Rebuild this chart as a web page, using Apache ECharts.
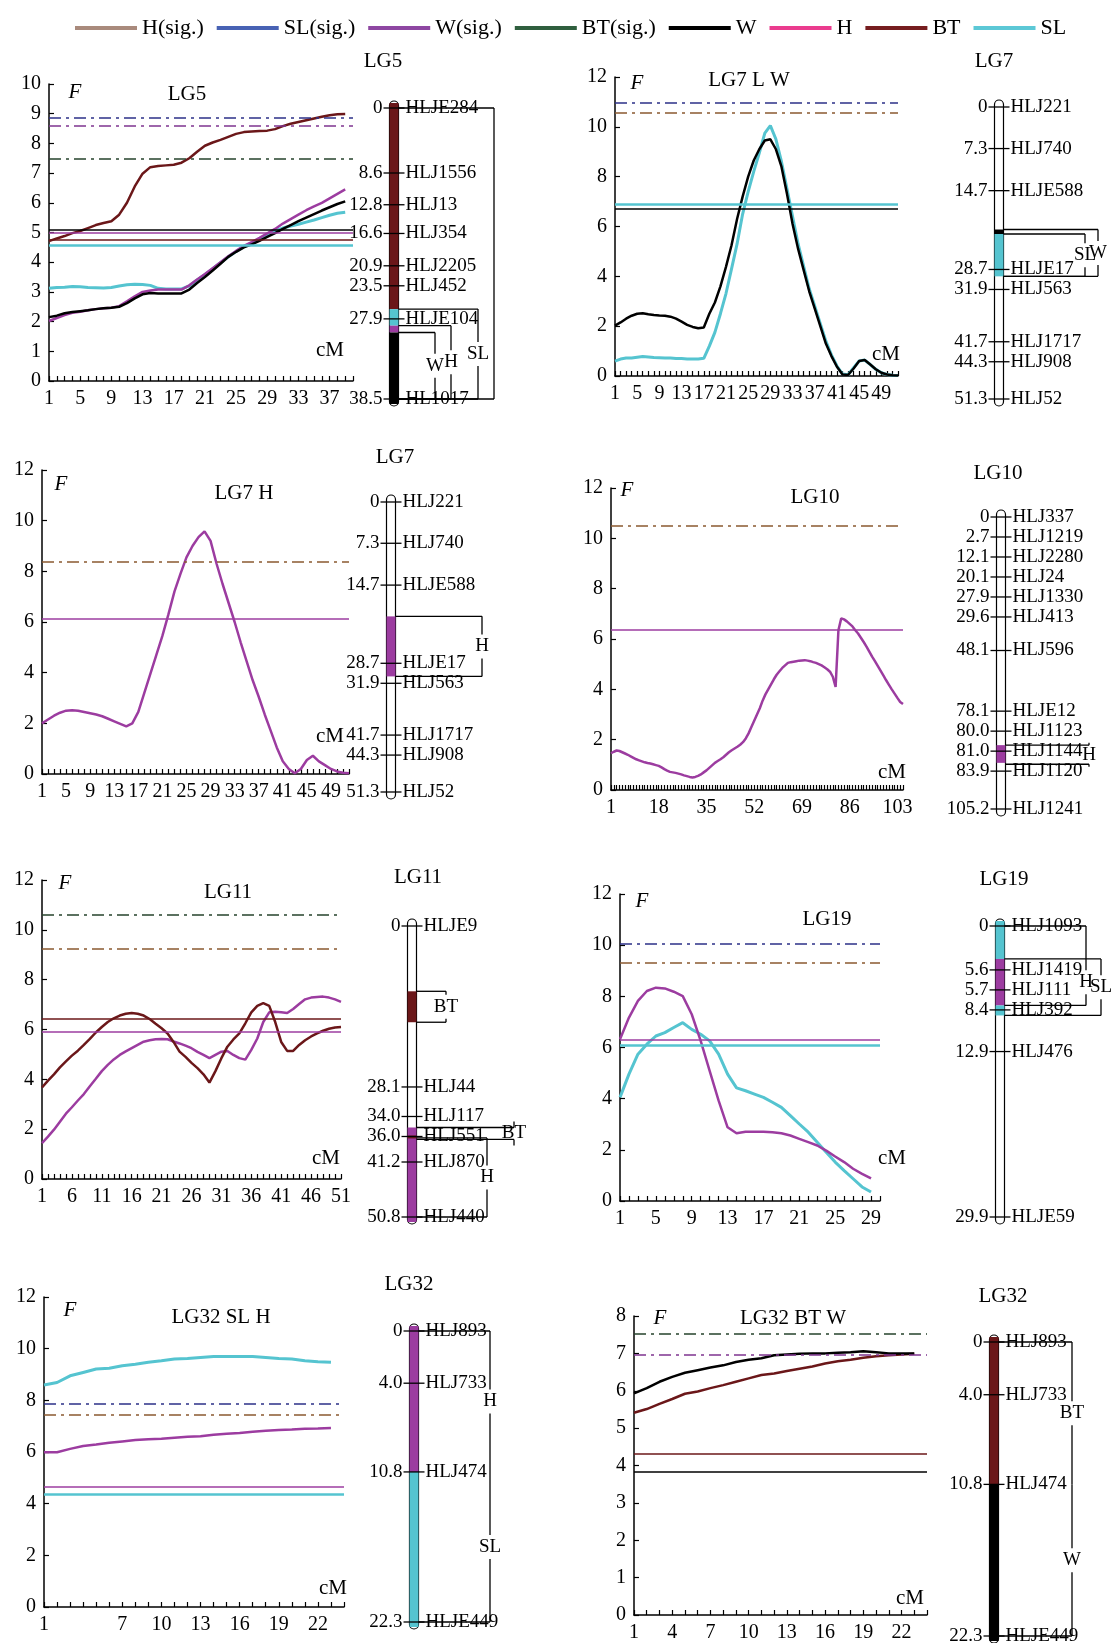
<!DOCTYPE html>
<html>
<head>
<meta charset="utf-8">
<script src="https://cdn.jsdelivr.net/npm/echarts@6/dist/echarts.min.js"></script>
<style>
html, body { margin: 0; padding: 0; background: #fff; }
#main { width: 1115px; height: 1643px; }
</style>
</head>
<body>
<div id="main"></div>
<script>
// ---------- data: F curves, one value per cM ----------
const lg5BT = [4.71,4.8,4.88,4.98,5.05,5.15,5.25,5.32,5.38,5.6,6.0,6.55,6.98,7.2,7.24,7.26,7.28,7.35,7.5,7.72,7.92,8.03,8.12,8.22,8.32,8.38,8.4,8.42,8.43,8.48,8.58,8.66,8.72,8.78,8.84,8.9,8.95,8.98,8.99];
const lg5W = [2.15,2.2,2.28,2.32,2.35,2.38,2.42,2.45,2.47,2.5,2.62,2.78,2.92,2.96,2.95,2.95,2.95,2.95,3.08,3.3,3.5,3.72,3.95,4.18,4.35,4.5,4.6,4.72,4.85,4.98,5.12,5.25,5.38,5.5,5.62,5.74,5.85,5.96,6.05];
const lg5H = [2.02,2.12,2.22,2.3,2.33,2.38,2.42,2.45,2.47,2.52,2.68,2.85,3.0,3.05,3.08,3.08,3.08,3.08,3.22,3.42,3.6,3.8,4.0,4.2,4.38,4.55,4.68,4.82,4.97,5.12,5.3,5.45,5.6,5.75,5.88,6.0,6.15,6.3,6.45];
const lg5SL = [3.12,3.15,3.16,3.18,3.17,3.15,3.14,3.13,3.15,3.2,3.24,3.26,3.25,3.22,3.12,3.1,3.1,3.1,3.2,3.4,3.58,3.78,3.98,4.18,4.36,4.52,4.65,4.78,4.92,5.05,5.15,5.22,5.28,5.35,5.42,5.5,5.58,5.65,5.68];
const lg5Lines = [['SL(sig.)', 8.88], ['W(sig.)', 8.61], ['BT(sig.)', 7.5], ['W', 5.1], ['H', 5.0], ['BT', 4.76], ['SL', 4.57]];
const lg5Ticks = [1,5,9,13,17,21,25,29,33,37];

const lg7W = [2.02,2.15,2.3,2.42,2.5,2.52,2.48,2.45,2.43,2.42,2.38,2.3,2.18,2.05,1.97,1.92,1.95,2.5,2.95,3.6,4.38,5.25,6.3,7.2,8.0,8.65,9.1,9.45,9.5,9.1,8.4,7.3,6.1,5.1,4.25,3.4,2.7,2.0,1.3,0.8,0.37,0.06,0.04,0.3,0.6,0.64,0.46,0.27,0.13,0.06,0.03,0.02];
const lg7SL = [0.6,0.68,0.72,0.72,0.75,0.78,0.76,0.74,0.73,0.72,0.72,0.7,0.7,0.68,0.68,0.68,0.71,1.2,1.75,2.5,3.31,4.3,5.3,6.5,7.4,8.2,8.95,9.75,10.05,9.5,8.6,7.5,6.4,5.3,4.4,3.5,2.8,2.1,1.4,0.85,0.4,0.08,0.05,0.33,0.6,0.64,0.46,0.27,0.13,0.06,0.03,0.02];
const lg7LWLines = [['SL(sig.)', 10.97], ['H(sig.)', 10.58], ['SL', 6.88], ['W', 6.7]];
const lg7Ticks = [1,5,9,13,17,21,25,29,33,37,41,45,49];

const lg7H = [2.0,2.15,2.3,2.42,2.5,2.52,2.5,2.45,2.4,2.35,2.28,2.18,2.08,1.98,1.88,2.0,2.45,3.2,3.95,4.7,5.45,6.3,7.2,7.9,8.55,9.0,9.35,9.58,9.2,8.3,7.5,6.75,6.0,5.2,4.45,3.7,3.05,2.35,1.7,1.05,0.5,0.2,0.03,0.2,0.55,0.72,0.5,0.35,0.2,0.1,0.05,0.03];
const lg7HLines = [['H(sig.)', 8.36], ['H', 6.14]];

const lg10H = [1.46,1.52,1.57,1.55,1.5,1.45,1.4,1.34,1.28,1.22,
  1.18,1.14,1.1,1.07,1.05,1.02,0.99,0.96,0.9,0.83,
  0.77,0.72,0.7,0.68,0.65,0.62,0.58,0.55,0.52,0.5,
  0.52,0.56,0.62,0.7,0.78,0.88,0.98,1.08,1.15,1.22,
  1.3,1.4,1.5,1.58,1.65,1.72,1.8,1.9,2.05,2.25,
  2.5,2.75,3.0,3.25,3.55,3.8,4.0,4.2,4.4,4.58,
  4.72,4.85,4.95,5.05,5.08,5.1,5.12,5.14,5.15,5.16,
  5.14,5.12,5.08,5.05,5.0,4.95,4.88,4.8,4.7,4.5,
  4.1,6.35,6.82,6.78,6.7,6.6,6.5,6.35,6.22,6.05,
  5.88,5.7,5.5,5.3,5.12,4.93,4.74,4.55,4.36,4.18,
  4.0,3.83,3.66,3.5,3.42];
const lg10Lines = [['H(sig.)', 10.51], ['H', 6.35]];
const lg10Ticks = [1,18,35,52,69,86,103];

const lg11BT = [3.67,3.95,4.2,4.48,4.72,4.95,5.15,5.38,5.62,5.88,6.1,6.3,6.45,6.56,6.63,6.66,6.63,6.56,6.42,6.23,6.05,5.84,5.5,5.11,4.9,4.66,4.45,4.2,3.87,4.33,4.85,5.31,5.6,5.84,6.25,6.69,6.95,7.06,6.95,6.3,5.5,5.14,5.14,5.38,5.57,5.72,5.84,5.95,6.03,6.08,6.1];
const lg11H = [1.44,1.7,1.98,2.3,2.62,2.88,3.15,3.41,3.72,4.02,4.33,4.58,4.8,4.98,5.12,5.25,5.38,5.51,5.57,5.61,5.62,5.61,5.52,5.44,5.35,5.25,5.1,4.98,4.85,4.98,5.11,5.14,4.98,4.85,4.79,5.18,5.64,6.3,6.69,6.71,6.69,6.66,6.82,7.02,7.21,7.28,7.3,7.32,7.28,7.21,7.11];
const lg11Lines = [['BT(sig.)', 10.6], ['H(sig.)', 9.25], ['BT', 6.43], ['H', 5.9]];
const lg11Ticks = [1,6,11,16,21,26,31,36,41,46,51];

const lg19H = [6.32,7.17,7.82,8.21,8.34,8.31,8.18,8.01,7.3,6.26,5.09,3.92,2.88,2.65,2.71,2.71,2.71,2.69,2.65,2.56,2.43,2.3,2.17,1.97,1.74,1.52,1.26,1.06,0.88];
const lg19SL = [4.05,4.96,5.74,6.13,6.45,6.58,6.78,6.97,6.71,6.52,6.26,5.74,4.96,4.42,4.31,4.18,4.05,3.86,3.66,3.34,3.01,2.69,2.3,1.91,1.52,1.19,0.87,0.55,0.35];
const lg19Lines = [['SL(sig.)', 10.06], ['H(sig.)', 9.31], ['H', 6.3], ['SL', 6.1]];
const lg19Ticks = [1,5,9,13,17,21,25,29];

const lg32SL = [8.59,8.69,8.95,9.08,9.21,9.24,9.34,9.4,9.47,9.53,9.6,9.62,9.66,9.7,9.7,9.7,9.7,9.66,9.62,9.6,9.53,9.49,9.47];
const lg32H = [5.99,5.99,6.12,6.23,6.29,6.36,6.41,6.46,6.49,6.51,6.55,6.59,6.61,6.67,6.71,6.74,6.78,6.82,6.85,6.87,6.9,6.91,6.93];
const lg32SLHLines = [['SL(sig.)', 7.85], ['H(sig.)', 7.46], ['H', 4.64], ['SL', 4.37]];
const lg32SLHTicks = [1,7,10,13,16,19,22];

const lg32W = [5.93,6.07,6.24,6.37,6.48,6.55,6.62,6.68,6.77,6.83,6.87,6.95,6.97,6.99,7.0,7.0,7.02,7.03,7.06,7.03,7.0,7.0,7.0];
const lg32BT = [5.41,5.51,5.65,5.78,5.92,5.98,6.07,6.15,6.24,6.33,6.42,6.46,6.53,6.59,6.65,6.73,6.79,6.83,6.88,6.92,6.95,6.97,6.99];
const lg32BTWLines = [['BT(sig.)', 7.52], ['W(sig.)', 6.95], ['BT', 4.31], ['W', 3.84]];
const lg32BTWTicks = [1,4,7,10,13,16,19,22];

// ---------- data: linkage maps ----------
const lg5Markers = [[0,'HLJE284'],[8.6,'HLJ1556'],[12.8,'HLJ13'],[16.6,'HLJ354'],[20.9,'HLJ2205'],[23.5,'HLJ452'],[27.9,'HLJE104'],[38.5,'HL1017']];
const lg5Qtl = [[0,26.6,'BT'],[26.6,28.8,'SL'],[28.8,29.7,'H'],[29.7,38.5,'W']];
const lg5Brackets = [[0,38.5,'',4],[26.6,38.5,'SL',3],[28.8,38.5,'H',2],[29.7,38.5,'W',1]];

const lg7Markers = [[0,'HLJ221'],[7.3,'HLJ740'],[14.7,'HLJE588'],[28.7,'HLJE17'],[31.9,'HLJ563'],[41.7,'HLJ1717'],[44.3,'HLJ908'],[51.3,'HLJ52']];
const lg7LWQtl = [[21.6,22.4,'W'],[22.4,29.8,'SL']];
const lg7LWBrackets = [[21.6,29.8,'W',2],[22.4,29.8,'SL',1]];
const lg7HQtl = [[20.3,30.8,'H']];
const lg7HBrackets = [[20.3,30.8,'H',1]];

const lg10Markers = [[0,'HLJ337'],[2.7,'HLJ1219'],[12.1,'HLJ2280'],[20.1,'HLJ24'],[27.9,'HLJ1330'],[29.6,'HLJ413'],[48.1,'HLJ596'],[78.1,'HLJE12'],[80.0,'HLJ1123'],[81.0,'HLJ1144'],[83.9,'HLJ1120'],[105.2,'HLJ1241']];
const lg10Qtl = [[80.7,82.7,'H']];
const lg10Brackets = [[80.7,82.9,'H',1]];

const lg11Markers = [[0,'HLJE9'],[28.1,'HLJ44'],[34.0,'HLJ117'],[36.0,'HLJ551'],[41.2,'HLJ870'],[50.8,'HLJ440']];
const lg11Qtl = [[11.4,16.8,'BT'],[35.1,50.8,'H'],[35.9,36.4,'BT']];
const lg11Brackets = [[11.4,16.8,'BT',1],[36.3,50.8,'H',2],[35.1,36.6,'BT',3]];

const lg19Markers = [[0,'HLJ1093'],[5.6,'HLJ1419'],[5.7,'HLJ111'],[8.4,'HLJ392'],[12.9,'HLJ476'],[29.9,'HLJE59']];
const lg19Qtl = [[0,4.2,'SL'],[4.2,7.8,'H'],[7.8,9.0,'SL']];
const lg19Brackets = [[0,4.2,'',1],[4.2,7.8,'H',1],[4.2,9.0,'SL',2]];

const lg32Markers = [[0,'HLJ893'],[4.0,'HLJ733'],[10.8,'HLJ474'],[22.3,'HLJE449']];
const lg32SLHQtl = [[0,10.8,'H'],[10.8,22.3,'SL']];
const lg32SLHBrackets = [[0,10.8,'H',1],[10.8,22.3,'SL',1]];
const lg32BTWQtl = [[0,10.8,'BT'],[10.8,22.3,'W']];
const lg32BTWBrackets = [[0,10.8,'BT',1],[10.8,22.3,'W',1]];

const legendNames = ['H(sig.)','SL(sig.)','W(sig.)','BT(sig.)','W','H','BT','SL'];

// ---------- styles ----------
const FONT = '"Liberation Serif", "Times New Roman", serif';
const TRAIT_COLOR = { W: '#000000', H: '#9c3ca0', BT: '#6b1719', SL: '#55c4d0' };
const SIG_COLOR = { 'H(sig.)': '#8a5a30', 'SL(sig.)': '#2d3088', 'W(sig.)': '#7f3590', 'BT(sig.)': '#26432d' };
const LEGEND_COLOR = { 'H(sig.)': '#a98a7c', 'SL(sig.)': '#4862b4', 'W(sig.)': '#8e47a2', 'BT(sig.)': '#2f5f3e', W: '#000000', H: '#ea3b8e', BT: '#761d1f', SL: '#5cc8d6' };

// ---------- panels ----------
const charts = [
  { title: 'LG5', ymax: 10, step: 1, ncat: 40, ticks: lg5Ticks, curves: [['SL', lg5SL], ['H', lg5H], ['W', lg5W], ['BT', lg5BT]], lines: lg5Lines,
    box: [49, 84, 304, 297], titlePos: [187, 94], fPos: [75, 92], cmPos: [330, 350] },
  { title: 'LG7 L W', ymax: 12, step: 2, ncat: 52, ticks: lg7Ticks, curves: [['SL', lg7SL], ['W', lg7W]], lines: lg7LWLines,
    box: [615, 77, 283, 299], titlePos: [749, 80], fPos: [637, 83], cmPos: [886, 354] },
  { title: 'LG7 H', ymax: 12, step: 2, ncat: 52, ticks: lg7Ticks, curves: [['H', lg7H]], lines: lg7HLines,
    box: [42, 470, 307, 304], titlePos: [244, 493], fPos: [61, 484], cmPos: [330, 736] },
  { title: 'LG10', ymax: 12, step: 2, ncat: 105, ticks: lg10Ticks, curves: [['H', lg10H]], lines: lg10Lines,
    box: [611, 488, 292, 302], titlePos: [815, 497], fPos: [627, 490], cmPos: [892, 772] },
  { title: 'LG11', ymax: 12, step: 2, ncat: 51, ticks: lg11Ticks, curves: [['H', lg11H], ['BT', lg11BT]], lines: lg11Lines,
    box: [42, 880, 299, 299], titlePos: [228, 892], fPos: [65, 883], cmPos: [326, 1158] },
  { title: 'LG19', ymax: 12, step: 2, ncat: 30, ticks: lg19Ticks, curves: [['SL', lg19SL], ['H', lg19H]], lines: lg19Lines,
    box: [620, 894, 260, 307], titlePos: [827, 919], fPos: [642, 901], cmPos: [892, 1158] },
  { title: 'LG32 SL H', ymax: 12, step: 2, ncat: 24, ticks: lg32SLHTicks, curves: [['SL', lg32SL], ['H', lg32H]], lines: lg32SLHLines,
    box: [44, 1297, 300, 310], titlePos: [221, 1317], fPos: [70, 1310], cmPos: [333, 1588] },
  { title: 'LG32 BT W', ymax: 8, step: 1, ncat: 24, ticks: lg32BTWTicks, curves: [['BT', lg32BT], ['W', lg32W]], lines: lg32BTWLines,
    box: [634, 1316, 293, 301], titlePos: [793, 1318], fPos: [660, 1318], cmPos: [910, 1598] }
];

const maps = [
  { title: 'LG5', markers: lg5Markers, qtl: lg5Qtl, brackets: lg5Brackets, bar: [394, 108, 399], titlePos: [383, 61], cols: [41, 57, 84, 100] },
  { title: 'LG7', markers: lg7Markers, qtl: lg7LWQtl, brackets: lg7LWBrackets, bar: [999, 107, 399], titlePos: [994, 61], cols: [86, 99] },
  { title: 'LG7', markers: lg7Markers, qtl: lg7HQtl, brackets: lg7HBrackets, bar: [391, 502, 792], titlePos: [395, 457], cols: [91] },
  { title: 'LG10', markers: lg10Markers, qtl: lg10Qtl, brackets: lg10Brackets, bar: [1001, 517, 809], titlePos: [998, 473], cols: [88] },
  { title: 'LG11', markers: lg11Markers, qtl: lg11Qtl, brackets: lg11Brackets, bar: [412, 926, 1217], titlePos: [418, 877], cols: [34, 75, 102] },
  { title: 'LG19', markers: lg19Markers, qtl: lg19Qtl, brackets: lg19Brackets, bar: [1000, 926, 1217], titlePos: [1004, 879], cols: [86, 101] },
  { title: 'LG32', markers: lg32Markers, qtl: lg32SLHQtl, brackets: lg32SLHBrackets, bar: [414, 1331, 1622], titlePos: [409, 1284], cols: [76] },
  { title: 'LG32', markers: lg32Markers, qtl: lg32BTWQtl, brackets: lg32BTWBrackets, bar: [994, 1342, 1636], titlePos: [1003, 1296], cols: [78] }
];

// ---------- helpers ----------
function fmtPos(v) { return v === 0 ? '0' : v.toFixed(1); }

// push marker labels apart so that they do not overlap, first and last stay put
function spreadY(api, markers, gap) {
  const ys = markers.map(m => api.coord([0, m[0]])[1]);
  const n = ys.length;
  for (let it = 0; it < 300; it++) {
    let moved = false;
    for (let i = 1; i < n; i++) {
      const d = ys[i] - ys[i - 1];
      if (d < gap - 0.01) {
        const need = gap - d;
        if (i - 1 === 0) ys[i] += need;
        else if (i === n - 1) ys[i - 1] -= need;
        else { ys[i - 1] -= need / 2; ys[i] += need / 2; }
        moved = true;
      }
    }
    if (!moved) break;
  }
  return ys;
}

function drawMap(api, m) {
  const mk = m.markers;
  const ys = spreadY(api, mk, 20);
  const Y = cm => {
    for (let i = 0; i < mk.length - 1; i++) {
      const a = mk[i][0], b = mk[i + 1][0];
      if (cm >= a && cm <= b) return ys[i] + (cm - a) / (b - a) * (ys[i + 1] - ys[i]);
    }
    return api.coord([0, cm])[1];
  };
  const cx = api.coord([0, 0])[0];
  const hw = 4.5;
  const yTop = ys[0], yBot = ys[ys.length - 1];
  const maxCm = mk[mk.length - 1][0];
  const kids = [];
  const font = '19px ' + FONT;
  kids.push({ type: 'rect', shape: { x: cx - hw, y: yTop - 7, width: hw * 2, height: yBot - yTop + 14, r: hw },
    style: { fill: '#fff', stroke: '#000', lineWidth: 1.2 } });
  m.qtl.forEach(s => {
    const a = s[0] === 0 ? yTop - 5 : Y(s[0]);
    const b = s[1] === maxCm ? yBot + 5 : Y(s[1]);
    kids.push({ type: 'rect', shape: { x: cx - hw, y: a, width: hw * 2, height: b - a }, style: { fill: TRAIT_COLOR[s[2]] } });
  });
  mk.forEach((p, i) => {
    const y = ys[i];
    kids.push({ type: 'line', shape: { x1: cx - hw - 6, y1: y, x2: cx + hw + 6, y2: y }, style: { stroke: '#000', lineWidth: 1.3 } });
    kids.push({ type: 'text', x: cx - hw - 7, y: y, style: { text: fmtPos(p[0]), align: 'right', verticalAlign: 'middle', font: font, fill: '#000' } });
    kids.push({ type: 'text', x: cx + hw + 7, y: y, style: { text: p[1], align: 'left', verticalAlign: 'middle', font: font, fill: '#000' } });
  });
  const ln = (x1, y1, x2, y2) => kids.push({ type: 'line', shape: { x1, y1, x2, y2 }, style: { stroke: '#000', lineWidth: 1.3 } });
  m.brackets.forEach(b => {
    const x = cx + m.cols[b[3] - 1];
    const y1 = Y(b[0]), y2 = Y(b[1]);
    const capTop = !m.brackets.some(o => o !== b && o[3] === b[3] && o[1] === b[0]);
    const capBot = !m.brackets.some(o => o !== b && o[3] === b[3] && o[0] === b[1]);
    if (capTop) ln(cx + hw, y1, x, y1);
    if (capBot) ln(cx + hw, y2, x, y2);
    if (b[2]) {
      const mid = (y1 + y2) / 2;
      ln(x, y1, x, mid - 12);
      ln(x, mid + 12, x, y2);
      kids.push({ type: 'text', x: x, y: mid, style: { text: b[2], align: 'center', verticalAlign: 'middle', font: font, fill: '#000' } });
    } else {
      ln(x, y1, x, y2);
    }
  });
  return { type: 'group', children: kids };
}

// ---------- option ----------
const grid = [], xAxis = [], yAxis = [], series = [], graphic = [];
const axisFont = { color: '#000', fontFamily: FONT, fontSize: 20 };

charts.forEach((c, k) => {
  const [left, top, width, height] = c.box;
  grid.push({ left, top, width, height });
  const cats = Array.from({ length: c.ncat }, (_, i) => String(i + 1));
  xAxis.push({
    type: 'category', gridIndex: k, data: cats, boundaryGap: false,
    axisLine: { lineStyle: { color: '#000', width: 1.5 } },
    axisTick: { inside: true, length: 5, interval: 0, lineStyle: { color: '#000', width: 1.2 } },
    axisLabel: Object.assign({ interval: (i) => c.ticks.includes(i + 1), margin: 8 }, axisFont),
    splitLine: { show: false }
  });
  yAxis.push({
    type: 'value', gridIndex: k, min: 0, max: c.ymax, interval: c.step,
    axisLine: { show: true, lineStyle: { color: '#000', width: 1.5 } },
    axisTick: { show: true, inside: true, length: 5, lineStyle: { color: '#000', width: 1.2 } },
    axisLabel: Object.assign({ margin: 8 }, axisFont),
    splitLine: { show: false }
  });
  c.lines.forEach(([name, v]) => {
    const sig = name.indexOf('sig') >= 0;
    const col = sig ? SIG_COLOR[name] : TRAIT_COLOR[name];
    series.push({
      type: 'line', name, xAxisIndex: k, yAxisIndex: k, data: [], color: col, z: 1,
      markLine: {
        silent: true, symbol: ['none', 'none'], label: { show: false }, animation: false,
        lineStyle: { color: col, width: sig ? 1.5 : (name === 'SL' ? 2.5 : 1.5), type: sig ? [12, 5, 3, 5] : 'solid' },
        data: [{ yAxis: v }]
      }
    });
  });
  c.curves.forEach(([name, vals]) => {
    series.push({
      type: 'line', name, xAxisIndex: k, yAxisIndex: k, data: vals, color: TRAIT_COLOR[name],
      symbol: 'none', smooth: false, z: 3, animation: false,
      lineStyle: { color: TRAIT_COLOR[name], width: name === 'SL' ? 3 : 2.5 }
    });
  });
  graphic.push({ type: 'text', x: c.titlePos[0], y: c.titlePos[1], style: { text: c.title, align: 'center', verticalAlign: 'middle', font: '21px ' + FONT, fill: '#000' } });
  graphic.push({ type: 'text', x: c.fPos[0], y: c.fPos[1], style: { text: 'F', align: 'center', verticalAlign: 'middle', font: 'italic 21px ' + FONT, fill: '#000' } });
  graphic.push({ type: 'text', x: c.cmPos[0], y: c.cmPos[1], style: { text: 'cM', align: 'center', verticalAlign: 'middle', font: '21px ' + FONT, fill: '#000' } });
});

maps.forEach((m, j) => {
  const k = charts.length + j;
  const [bx, y0, y1] = m.bar;
  grid.push({ left: bx - 20, top: y0, width: 40, height: y1 - y0 });
  xAxis.push({ type: 'value', gridIndex: k, min: -1, max: 1, show: false });
  yAxis.push({ type: 'value', gridIndex: k, min: 0, max: m.markers[m.markers.length - 1][0], inverse: true, show: false });
  series.push({
    type: 'custom', xAxisIndex: k, yAxisIndex: k, silent: true, animation: false, clip: false,
    data: [[0, 0]],
    renderItem: (params, api) => drawMap(api, m)
  });
  graphic.push({ type: 'text', x: m.titlePos[0], y: m.titlePos[1], style: { text: m.title, align: 'center', verticalAlign: 'middle', font: '21px ' + FONT, fill: '#000' } });
});

const chart = echarts.init(document.getElementById('main'));
chart.setOption({
  backgroundColor: '#fff',
  animation: false,
  legend: {
    top: 17, left: 75, padding: 0, itemWidth: 62, itemHeight: 4, itemGap: 13, icon: 'rect', selectedMode: false,
    textStyle: { color: '#000', fontFamily: FONT, fontSize: 22 },
    data: legendNames.map(n => ({ name: n, itemStyle: { color: LEGEND_COLOR[n] } }))
  },
  grid, xAxis, yAxis, series, graphic
});
</script>
</body>
</html>
